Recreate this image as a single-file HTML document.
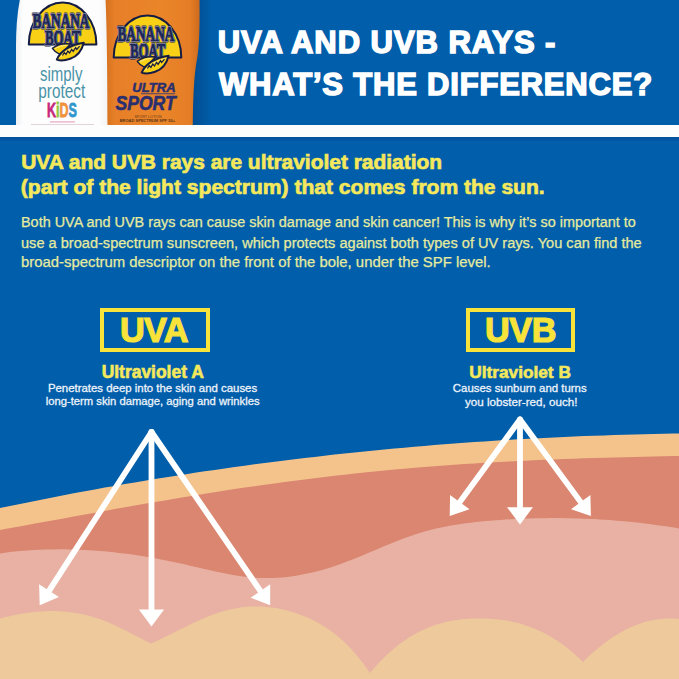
<!DOCTYPE html>
<html><head><meta charset="utf-8"><style>
html,body{margin:0;padding:0;}
body{width:679px;height:679px;overflow:hidden;position:relative;background:#015eaa;font-family:"Liberation Sans",sans-serif;}
.abs{position:absolute;}
.t{position:absolute;white-space:nowrap;}
</style></head><body>

<div class="abs" style="left:99.6px;top:307.7px;width:102px;height:36.3px;border:4px solid #f7e33a"></div>
<div class="abs" style="left:465.5px;top:307.7px;width:101.7px;height:36.3px;border:4px solid #f7e33a"></div>
<div class="t" style="left:217.72px;top:27.06px;font-size:31.00px;line-height:31.00px;font-weight:700;color:#ffffff;letter-spacing:0.952px;-webkit-text-stroke:1.5px #ffffff;">UVA AND UVB RAYS -</div>
<div class="t" style="left:219.00px;top:69.06px;font-size:31.00px;line-height:31.00px;font-weight:700;color:#ffffff;letter-spacing:0.805px;-webkit-text-stroke:1.5px #ffffff;">WHAT’S THE DIFFERENCE?</div>
<div class="t" style="left:21.14px;top:152.41px;font-size:20.93px;line-height:20.93px;font-weight:700;color:#f4e85c;letter-spacing:0.000px;-webkit-text-stroke:0.7px #f4e85c;">UVA and UVB rays are ultraviolet radiation</div>
<div class="t" style="left:20.82px;top:175.77px;font-size:21.06px;line-height:21.06px;font-weight:700;color:#f4e85c;letter-spacing:0.000px;-webkit-text-stroke:0.7px #f4e85c;">(part of the light spectrum) that comes from the sun.</div>
<div class="t" style="left:21.00px;top:215.27px;font-size:14.43px;line-height:14.43px;font-weight:400;color:#e6eb9e;letter-spacing:0.000px;-webkit-text-stroke:0.25px #e6eb9e;">Both UVA and UVB rays can cause skin damage and skin cancer! This is why it’s so important to</div>
<div class="t" style="left:21.00px;top:236.04px;font-size:14.58px;line-height:14.58px;font-weight:400;color:#e6eb9e;letter-spacing:0.000px;-webkit-text-stroke:0.25px #e6eb9e;">use a broad-spectrum sunscreen, which protects against both types of UV rays. You can find the</div>
<div class="t" style="left:21.00px;top:255.41px;font-size:14.88px;line-height:14.88px;font-weight:400;color:#e6eb9e;letter-spacing:0.000px;-webkit-text-stroke:0.25px #e6eb9e;">broad-spectrum descriptor on the front of the bole, under the SPF level.</div>
<div class="t" style="left:119.88px;top:312.66px;font-size:34.31px;line-height:34.31px;font-weight:700;color:#f7e33a;letter-spacing:-0.620px;-webkit-text-stroke:1.2px #f7e33a;">UVA</div>
<div class="t" style="left:484.88px;top:313.00px;font-size:34.24px;line-height:34.24px;font-weight:700;color:#f7e33a;letter-spacing:-0.400px;-webkit-text-stroke:1.2px #f7e33a;">UVB</div>
<div class="t" style="left:101.68px;top:363.54px;font-size:17.44px;line-height:17.44px;font-weight:700;color:#f4e85c;letter-spacing:0.000px;-webkit-text-stroke:0.6px #f4e85c;">Ultraviolet A</div>
<div class="t" style="left:469.20px;top:363.79px;font-size:17.28px;line-height:17.28px;font-weight:700;color:#f4e85c;letter-spacing:0.000px;-webkit-text-stroke:0.6px #f4e85c;">Ultraviolet B</div>
<div class="t" style="left:47.88px;top:383.01px;font-size:11.41px;line-height:11.41px;font-weight:400;color:#eef3fa;letter-spacing:0.000px;-webkit-text-stroke:0.3px #eef3fa;">Penetrates deep into the skin and causes</div>
<div class="t" style="left:45.68px;top:396.24px;font-size:11.26px;line-height:11.26px;font-weight:400;color:#eef3fa;letter-spacing:0.000px;-webkit-text-stroke:0.3px #eef3fa;">long-term skin damage, aging and wrinkles</div>
<div class="t" style="left:452.84px;top:383.01px;font-size:11.42px;line-height:11.42px;font-weight:400;color:#eef3fa;letter-spacing:0.000px;-webkit-text-stroke:0.3px #eef3fa;">Causes sunburn and turns</div>
<div class="t" style="left:465.00px;top:395.99px;font-size:11.63px;line-height:11.63px;font-weight:400;color:#eef3fa;letter-spacing:0.000px;-webkit-text-stroke:0.3px #eef3fa;">you lobster-red, ouch!</div>

<svg class="abs" style="left:0;top:0" width="679" height="679" viewBox="0 0 679 679">
<path d="M-5,684 L-5.0,509.1 5.0,507.0 15.0,504.9 25.0,502.9 34.9,500.9 44.9,498.9 54.9,496.9 64.9,495.0 74.9,493.1 84.9,491.3 94.9,489.4 104.8,487.6 114.8,485.9 124.8,484.1 134.8,482.4 144.8,480.8 154.8,479.1 164.8,477.5 174.7,475.9 184.7,474.4 194.7,472.8 204.7,471.3 214.7,469.9 224.7,468.4 234.7,467.0 244.6,465.7 254.6,464.3 264.6,463.0 274.6,461.7 284.6,460.5 294.6,459.2 304.6,458.0 314.5,456.9 324.5,455.7 334.5,454.6 344.5,453.5 354.5,452.5 364.5,451.5 374.4,450.5 384.4,449.5 394.4,448.6 404.4,447.7 414.4,446.8 424.4,445.9 434.4,445.1 444.3,444.3 454.3,443.5 464.3,442.8 474.3,442.1 484.3,441.4 494.3,440.7 504.3,440.1 514.2,439.5 524.2,438.9 534.2,438.4 544.2,437.9 554.2,437.4 564.2,436.9 574.2,436.5 584.1,436.1 594.1,435.7 604.1,435.4 614.1,435.0 624.1,434.7 634.1,434.5 644.1,434.2 654.0,434.0 664.0,433.8 674.0,433.6 684.0,433.5 L684,684 Z" fill="#f4c38c"/>
<path d="M-5,684 L-5.0,530.9 5.0,529.1 15.0,527.3 25.0,525.5 34.9,523.6 44.9,521.8 54.9,520.0 64.9,518.2 74.9,516.3 84.9,514.5 94.9,512.7 104.8,510.9 114.8,509.1 124.8,507.3 134.8,505.5 144.8,503.8 154.8,502.1 164.8,500.4 174.7,498.7 184.7,497.0 194.7,495.4 204.7,493.8 214.7,492.2 224.7,490.6 234.7,489.1 244.6,487.6 254.6,486.2 264.6,484.7 274.6,483.4 284.6,482.0 294.6,480.7 304.6,479.4 314.5,478.2 324.5,477.0 334.5,475.8 344.5,474.7 354.5,473.6 364.5,472.5 374.4,471.5 384.4,470.5 394.4,469.6 404.4,468.7 414.4,467.8 424.4,467.0 434.4,466.2 444.3,465.4 454.3,464.7 464.3,464.0 474.3,463.4 484.3,462.8 494.3,462.2 504.3,461.7 514.2,461.2 524.2,460.7 534.2,460.2 544.2,459.8 554.2,459.4 564.2,459.0 574.2,458.7 584.1,458.3 594.1,458.0 604.1,457.7 614.1,457.5 624.1,457.2 634.1,456.9 644.1,456.7 654.0,456.5 664.0,456.3 674.0,456.0 684.0,455.8 L684,684 Z" fill="#da8670"/>
<path d="M-5,684 L-5.0,554.1 -0.0,553.4 4.9,552.7 9.9,552.1 14.8,551.6 19.8,551.1 24.7,550.7 29.7,550.3 34.7,550.0 39.6,549.8 44.6,549.6 49.5,549.4 54.5,549.4 59.4,549.3 64.4,549.3 69.4,549.4 74.3,549.5 79.3,549.7 84.2,549.9 89.2,550.2 94.1,550.5 99.1,550.9 104.1,551.3 109.0,551.8 114.0,552.3 118.9,552.9 123.9,553.5 128.8,554.1 133.8,554.8 138.7,555.5 143.7,556.3 148.7,557.2 153.6,558.0 158.6,558.9 163.5,559.9 168.5,560.9 173.4,561.9 178.4,563.0 183.4,564.1 188.3,565.2 193.3,566.4 198.2,567.5 203.2,568.7 208.1,569.8 213.1,571.0 218.1,572.0 223.0,573.1 228.0,574.0 232.9,574.9 237.9,575.7 242.8,576.4 247.8,577.0 252.8,577.5 257.7,577.9 262.7,578.1 267.6,578.1 272.6,578.0 277.5,577.8 282.5,577.4 287.5,576.9 292.4,576.3 297.4,575.5 302.3,574.6 307.3,573.6 312.2,572.5 317.2,571.2 322.2,569.9 327.1,568.4 332.1,566.9 337.0,565.2 342.0,563.5 346.9,561.6 351.9,559.7 356.8,557.7 361.8,555.7 366.8,553.6 371.7,551.5 376.7,549.4 381.6,547.3 386.6,545.3 391.5,543.2 396.5,541.3 401.5,539.3 406.4,537.5 411.4,535.7 416.3,534.1 421.3,532.5 426.2,531.1 431.2,529.8 436.2,528.6 441.1,527.5 446.1,526.5 451.0,525.6 456.0,524.8 460.9,524.0 465.9,523.3 470.9,522.7 475.8,522.1 480.8,521.6 485.7,521.1 490.7,520.7 495.6,520.3 500.6,520.0 505.6,519.6 510.5,519.3 515.5,519.1 520.4,518.8 525.4,518.6 530.3,518.5 535.3,518.3 540.3,518.2 545.2,518.2 550.2,518.1 555.1,518.1 560.1,518.1 565.0,518.2 570.0,518.2 574.9,518.4 579.9,518.5 584.9,518.7 589.8,518.9 594.8,519.1 599.7,519.4 604.7,519.7 609.6,520.1 614.6,520.5 619.6,520.9 624.5,521.3 629.5,521.8 634.4,522.3 639.4,522.8 644.3,523.4 649.3,524.0 654.3,524.7 659.2,525.4 664.2,526.1 669.1,526.8 674.1,527.6 679.0,528.5 684.0,529.3 L684,684 Z" fill="#e8b1a3"/>
<path d="M-5,684 L-5.0,619.9 -2.4,619.1 0.3,618.4 2.9,617.7 5.6,617.1 8.2,616.5 10.9,615.9 13.5,615.3 16.2,614.8 18.8,614.3 21.4,613.8 24.1,613.4 26.7,613.0 29.4,612.6 32.0,612.3 34.7,612.0 37.3,611.8 39.9,611.5 42.6,611.4 45.2,611.2 47.9,611.2 50.5,611.1 53.2,611.1 55.8,611.1 58.5,611.2 61.1,611.4 63.7,611.5 66.4,611.8 69.0,612.1 71.7,612.4 74.3,612.8 77.0,613.2 79.6,613.7 82.3,614.2 84.9,614.8 87.5,615.4 90.2,616.1 92.8,616.9 95.5,617.7 98.1,618.6 100.8,619.5 103.4,620.5 106.1,621.5 108.7,622.6 111.3,623.7 114.0,624.9 116.6,626.1 119.3,627.4 121.9,628.7 124.6,630.0 127.2,631.3 129.8,632.7 132.5,634.0 135.1,635.4 137.8,636.8 140.4,638.1 143.1,639.5 145.7,640.9 148.4,642.2 151.0,643.5 154.7,641.9 158.4,640.2 162.1,638.4 165.8,636.6 169.6,634.8 173.3,632.9 177.0,631.1 180.7,629.2 184.4,627.4 188.1,625.5 191.8,623.8 195.5,622.0 199.3,620.3 203.0,618.7 206.7,617.1 210.4,615.6 214.1,614.2 217.8,612.9 221.5,611.8 225.2,610.7 228.9,609.7 232.7,608.9 236.4,608.2 240.1,607.6 243.8,607.1 247.5,606.8 251.2,606.6 254.9,606.5 258.6,606.5 262.4,606.6 266.1,606.9 269.8,607.2 273.5,607.7 277.2,608.3 280.9,609.0 284.6,609.9 288.3,610.8 292.1,611.9 295.8,613.1 299.5,614.4 303.2,615.8 306.9,617.3 310.6,619.0 314.3,620.8 318.0,622.8 321.7,624.9 325.5,627.2 329.2,629.7 332.9,632.4 336.6,635.3 340.3,638.5 344.0,641.8 347.7,645.5 351.4,649.3 355.2,653.5 358.9,657.9 362.6,662.6 366.3,667.7 370.0,673.0 373.6,668.7 377.2,664.7 380.8,660.8 384.4,657.2 388.1,653.8 391.7,650.5 395.3,647.5 398.9,644.6 402.5,642.0 406.1,639.4 409.7,637.1 413.3,634.9 416.9,632.9 420.5,631.1 424.2,629.4 427.8,627.8 431.4,626.4 435.0,625.1 438.6,624.0 442.2,623.0 445.8,622.1 449.4,621.3 453.0,620.6 456.6,620.0 460.3,619.5 463.9,619.1 467.5,618.9 471.1,618.6 474.7,618.5 478.3,618.5 481.9,618.5 485.5,618.6 489.1,618.7 492.7,618.9 496.4,619.3 500.0,619.7 503.6,620.1 507.2,620.7 510.8,621.4 514.4,622.2 518.0,623.1 521.6,624.1 525.2,625.2 528.8,626.4 532.5,627.8 536.1,629.3 539.7,630.9 543.3,632.6 546.9,634.5 550.5,636.6 554.1,638.7 557.7,641.1 561.3,643.6 564.9,646.2 568.6,649.0 572.2,652.0 575.8,655.2 579.4,658.5 583.0,662.0 584.7,660.3 586.4,658.6 588.1,657.0 589.8,655.4 591.6,653.8 593.3,652.3 595.0,650.8 596.7,649.4 598.4,647.9 600.1,646.5 601.8,645.2 603.5,643.8 605.3,642.5 607.0,641.3 608.7,640.0 610.4,638.8 612.1,637.7 613.8,636.6 615.5,635.5 617.2,634.4 618.9,633.4 620.7,632.4 622.4,631.4 624.1,630.5 625.8,629.6 627.5,628.8 629.2,627.9 630.9,627.2 632.6,626.4 634.4,625.7 636.1,625.0 637.8,624.4 639.5,623.8 641.2,623.2 642.9,622.6 644.6,622.1 646.3,621.6 648.1,621.2 649.8,620.8 651.5,620.4 653.2,620.1 654.9,619.8 656.6,619.5 658.3,619.2 660.0,619.0 661.7,618.9 663.5,618.7 665.2,618.6 666.9,618.5 668.6,618.5 670.3,618.5 672.0,618.5 673.7,618.6 675.4,618.7 677.2,618.8 678.9,619.0 680.6,619.2 682.3,619.4 684.0,619.7 L684,684 Z" fill="#eec99c"/>
<g fill="#fff" stroke="#fff" stroke-width="5.8" stroke-linecap="round" stroke-linejoin="round"><line x1="151.5" y1="432" x2="48.5" y2="591.6" /><polygon points="39.7,605.2 39.1,584.3 58.9,597.1" stroke="none"/><line x1="151.5" y1="432" x2="151.5" y2="610.4" /><polygon points="151.5,626.4 138.9,609.4 164.1,609.4" stroke="none"/><line x1="151.5" y1="432" x2="261.0" y2="591.8" /><polygon points="270.2,605.2 250.7,597.7 270.2,584.3" stroke="none"/></g>
<g fill="#fff" stroke="#fff" stroke-width="5.8" stroke-linecap="round" stroke-linejoin="round"><line x1="520" y1="419.5" x2="459.2" y2="502.9" /><polygon points="449.7,516.0 450.1,495.0 469.5,509.2" stroke="none"/><line x1="520" y1="419.5" x2="520.0" y2="508.2" /><polygon points="520.0,524.4 507.0,507.2 533.0,507.2" stroke="none"/><line x1="520" y1="419.5" x2="581.3" y2="502.9" /><polygon points="590.9,516.0 571.0,509.2 590.4,495.0" stroke="none"/></g>
</svg>
<svg class="abs" style="left:0;top:0" width="230" height="125" viewBox="0 0 230 125">
<defs>
<linearGradient id="sh" x1="0" x2="1" y1="0" y2="0"><stop offset="0" stop-color="#00336b" stop-opacity="0.45"/><stop offset="1" stop-color="#00336b" stop-opacity="0"/></linearGradient>
<linearGradient id="og" x1="0" x2="1" y1="0" y2="0">
<stop offset="0" stop-color="#d6711e"/><stop offset="0.1" stop-color="#e67f28"/><stop offset="0.6" stop-color="#eb8529"/><stop offset="0.9" stop-color="#e47d26"/><stop offset="1" stop-color="#cd6a1c"/>
</linearGradient>
<linearGradient id="wg" x1="0" x2="1" y1="0" y2="0">
<stop offset="0" stop-color="#eef0f2"/><stop offset="0.08" stop-color="#fdfdfd"/><stop offset="0.9" stop-color="#fdfdfd"/><stop offset="1" stop-color="#f2f3f4"/>
</linearGradient>
</defs>
<path d="M20,-1 C17,14 16,30 16,46 L16,125.5 L108,125.5 L108,-1 Z" fill="url(#wg)"/>
<g>
<path d="M28.8,44.6 A33.8,42 0 0 1 96.4,44.6 Z" fill="#f8d117" stroke="#161d44" stroke-width="2" stroke-linejoin="round"/>
<g font-family="Liberation Serif" font-weight="700">
<text x="32.5" y="28" font-size="22" textLength="57" lengthAdjust="spacingAndGlyphs" fill="#161d44" stroke="#161d44" stroke-width="2.8" stroke-linejoin="round">BANANA</text>
<text x="45" y="45" font-size="21" textLength="35.5" lengthAdjust="spacingAndGlyphs" fill="#161d44" stroke="#161d44" stroke-width="2.8" stroke-linejoin="round">BOAT</text>
<text x="32.5" y="28" font-size="22" textLength="57" lengthAdjust="spacingAndGlyphs" fill="#fff" stroke="#fff" stroke-width="1.6" stroke-linejoin="round">BANANA</text>
<text x="45" y="45" font-size="21" textLength="35.5" lengthAdjust="spacingAndGlyphs" fill="#fff" stroke="#fff" stroke-width="1.6" stroke-linejoin="round">BOAT</text>
<text x="32.5" y="28" font-size="22" textLength="57" lengthAdjust="spacingAndGlyphs" fill="#1b2657" stroke="#1b2657" stroke-width="1.2">BANANA</text>
<text x="45" y="45" font-size="21" textLength="35.5" lengthAdjust="spacingAndGlyphs" fill="#1b2657" stroke="#1b2657" stroke-width="1.2">BOAT</text>
</g>
<path d="M52.4,48.3 Q60,42.6 70.5,44 Q64,51.5 59.5,54.2 Q55,52.2 52.4,48.3 Z" fill="#f8d117" stroke="#161d44" stroke-width="1.4" stroke-linejoin="round"/>
<path d="M55,48.6 Q60.5,45.3 66.5,45.3" fill="none" stroke="#fff4c0" stroke-width="0.7"/>
<path d="M56.8,59.6 Q62.5,46.5 83.8,42.8 Q80.5,55.5 70.2,58.8 Q62,61.5 56.8,59.6 Z" fill="#f8d117" stroke="#161d44" stroke-width="2" stroke-linejoin="round"/>
<path d="M59.8,57.8 Q65,49.5 80.5,45.5" fill="none" stroke="#fff4c0" stroke-width="0.7"/>
<path d="M62.5,55.5 L64.3,52.6 L66,54.4 L67.8,51 L69.6,53 L71.6,49.4 L73.2,51.4 L75.6,47.6 L76.8,49.4 L79.6,46.2" fill="none" stroke="#161d44" stroke-width="1.2" stroke-linejoin="miter"/>
</g>

<text x="39.9" y="81" font-family="Liberation Sans" font-size="21" textLength="42.5" lengthAdjust="spacingAndGlyphs" fill="#4893a7">simply</text>
<text x="38.3" y="97.6" font-family="Liberation Sans" font-size="21" textLength="46.9" lengthAdjust="spacingAndGlyphs" fill="#4893a7">protect</text>
<text x="47" y="117.4" font-family="Liberation Sans" font-weight="700" font-size="20.5" textLength="30" lengthAdjust="spacingAndGlyphs" stroke-width="0.8"><tspan fill="#c62a7c" stroke="#c62a7c">K</tspan><tspan fill="#8cc540" stroke="#8cc540">i</tspan><tspan fill="#f0923a" stroke="#f0923a">D</tspan><tspan fill="#2f97cc" stroke="#2f97cc">S</tspan></text>
<rect x="50" y="121.3" width="25" height="1.2" fill="#e7a6c0"/>
<rect x="31" y="124.2" width="63" height="0.9" fill="#d9c9d0"/>
<rect x="190" y="-1" width="22" height="126" fill="url(#sh)"/>
<path d="M105.5,-1 L199.5,-1 C199.8,25 199.5,48 196.5,62 C194,76 193,100 192.8,125 L107.5,125 C107.5,90 107,30 105.5,-1 Z" fill="url(#og)"/>
<g transform="translate(84.9,13)">
<path d="M28.8,44.6 A33.8,42 0 0 1 96.4,44.6 Z" fill="#f8d117" stroke="#161d44" stroke-width="2" stroke-linejoin="round"/>
<g font-family="Liberation Serif" font-weight="700">
<text x="32.5" y="28" font-size="22" textLength="57" lengthAdjust="spacingAndGlyphs" fill="#161d44" stroke="#161d44" stroke-width="2.8" stroke-linejoin="round">BANANA</text>
<text x="45" y="45" font-size="21" textLength="35.5" lengthAdjust="spacingAndGlyphs" fill="#161d44" stroke="#161d44" stroke-width="2.8" stroke-linejoin="round">BOAT</text>
<text x="32.5" y="28" font-size="22" textLength="57" lengthAdjust="spacingAndGlyphs" fill="#fff" stroke="#fff" stroke-width="1.6" stroke-linejoin="round">BANANA</text>
<text x="45" y="45" font-size="21" textLength="35.5" lengthAdjust="spacingAndGlyphs" fill="#fff" stroke="#fff" stroke-width="1.6" stroke-linejoin="round">BOAT</text>
<text x="32.5" y="28" font-size="22" textLength="57" lengthAdjust="spacingAndGlyphs" fill="#1b2657" stroke="#1b2657" stroke-width="1.2">BANANA</text>
<text x="45" y="45" font-size="21" textLength="35.5" lengthAdjust="spacingAndGlyphs" fill="#1b2657" stroke="#1b2657" stroke-width="1.2">BOAT</text>
</g>
<path d="M52.4,48.3 Q60,42.6 70.5,44 Q64,51.5 59.5,54.2 Q55,52.2 52.4,48.3 Z" fill="#f8d117" stroke="#161d44" stroke-width="1.4" stroke-linejoin="round"/>
<path d="M55,48.6 Q60.5,45.3 66.5,45.3" fill="none" stroke="#fff4c0" stroke-width="0.7"/>
<path d="M56.8,59.6 Q62.5,46.5 83.8,42.8 Q80.5,55.5 70.2,58.8 Q62,61.5 56.8,59.6 Z" fill="#f8d117" stroke="#161d44" stroke-width="2" stroke-linejoin="round"/>
<path d="M59.8,57.8 Q65,49.5 80.5,45.5" fill="none" stroke="#fff4c0" stroke-width="0.7"/>
<path d="M62.5,55.5 L64.3,52.6 L66,54.4 L67.8,51 L69.6,53 L71.6,49.4 L73.2,51.4 L75.6,47.6 L76.8,49.4 L79.6,46.2" fill="none" stroke="#161d44" stroke-width="1.2" stroke-linejoin="miter"/>
</g>

<text x="132.3" y="91.8" font-family="Liberation Sans" font-weight="700" font-style="italic" font-size="13" textLength="43.4" lengthAdjust="spacingAndGlyphs" fill="#2a2f70" stroke="#2a2f70" stroke-width="0.5">ULTRA</text>
<rect x="141" y="93.4" width="34" height="0.8" fill="#27317a"/>
<text x="115.5" y="109.5" font-family="Liberation Sans" font-weight="700" font-style="italic" font-size="20" textLength="60.2" lengthAdjust="spacingAndGlyphs" fill="#2a2f70" stroke="#2a2f70" stroke-width="0.6">SPORT</text>
<text x="134.4" y="117.5" font-family="Liberation Sans" font-weight="400" font-size="3.2" textLength="27.3" lengthAdjust="spacingAndGlyphs" fill="#6a3a18">SPORT LOTION</text>
<text x="119.7" y="121.9" font-family="Liberation Sans" font-weight="700" font-size="3.8" textLength="55.3" lengthAdjust="spacingAndGlyphs" fill="#5a3416">BROAD SPECTRUM SPF 50+</text>
</svg>

<div class="abs" style="left:0;top:124.5px;width:679px;height:12px;background:#fdfdfd"></div>
<div class="abs" style="left:0;top:136.5px;width:679px;height:4.5px;background:linear-gradient(#07509a,#025aa6)"></div>

</body></html>
